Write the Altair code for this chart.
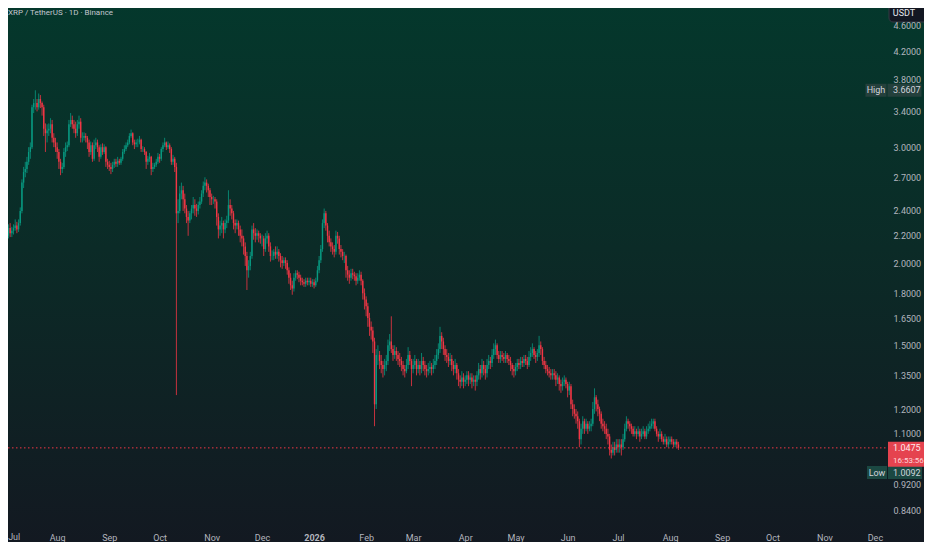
import altair as alt
import pandas as pd
import numpy as np

# ---------------- data ----------------
symbol_title = "XRP / TetherUS · 1D · Binance"
currency = "USDT"
start_date = "2025-06-28"
first_open = 2.12

closes_2025 = [
    2.14, 2.17, 2.20, 2.22,
    2.20, 2.26, 2.22, 2.24, 2.26, 2.28, 2.25, 2.30, 2.40, 2.65, 2.75, 2.78, 2.85, 2.95, 3.00, 3.45, 3.50, 3.50, 3.45, 3.55, 3.50, 3.45, 3.20, 3.15, 3.18, 3.20, 3.25, 3.10, 3.05, 3.00, 2.95,
    2.85, 2.78, 2.80, 2.95, 3.00, 3.02, 3.25, 3.30, 3.25, 3.20, 3.15, 3.25, 3.28, 3.10, 3.10, 3.12, 3.10, 3.05, 2.95, 3.02, 2.88, 3.02, 3.05, 3.00, 2.90, 3.00, 2.95, 3.00, 2.85, 2.82, 2.80,
    2.78, 2.82, 2.85, 2.83, 2.86, 2.84, 2.88, 2.95, 2.98, 3.02, 3.05, 3.12, 3.15, 3.05, 3.03, 3.05, 3.05, 3.08, 2.98, 2.98, 2.95, 2.85, 2.88, 2.90, 2.78, 2.80, 2.82, 2.85, 2.90, 2.88,
    2.98, 3.02, 3.05, 3.00, 3.02, 2.98, 2.85, 2.88, 2.80, 2.38, 2.40, 2.55, 2.58, 2.50, 2.42, 2.35, 2.32, 2.38, 2.42, 2.45, 2.42, 2.40, 2.45, 2.48, 2.55, 2.62, 2.65, 2.62, 2.58, 2.52, 2.50,
    2.50, 2.48, 2.35, 2.25, 2.28, 2.30, 2.25, 2.30, 2.32, 2.45, 2.42, 2.38, 2.30, 2.28, 2.30, 2.25, 2.20, 2.18, 2.12, 2.05, 1.95, 1.98, 2.05, 2.25, 2.22, 2.20, 2.22, 2.20, 2.18, 2.18,
    2.10, 2.18, 2.20, 2.12, 2.05, 2.05, 2.08, 2.06, 2.08, 2.05, 2.02, 2.00, 2.02, 2.00, 1.95, 1.90, 1.85, 1.83, 1.90, 1.93, 1.92, 1.90, 1.88, 1.87, 1.86, 1.88, 1.87, 1.88, 1.86, 1.87, 1.85,
]
highs_2025 = [
    2.17, 2.19, 2.23, 2.25,
    2.26, 2.29, 2.30, 2.27, 2.29, 2.33, 2.31, 2.33, 2.43, 2.68, 2.80, 2.85, 2.90, 3.00, 3.05, 3.48, 3.55, 3.6607, 3.55, 3.62, 3.60, 3.52, 3.48, 3.26, 3.25, 3.26, 3.32, 3.30, 3.15, 3.10, 3.05,
    2.98, 2.88, 2.84, 2.99, 3.05, 3.06, 3.30, 3.38, 3.35, 3.30, 3.28, 3.30, 3.35, 3.32, 3.16, 3.16, 3.15, 3.12, 3.08, 3.06, 3.05, 3.08, 3.10, 3.08, 3.02, 3.03, 3.04, 3.03, 3.01, 2.88, 2.86,
    2.84, 2.85, 2.88, 2.88, 2.90, 2.88, 2.90, 2.98, 3.02, 3.05, 3.08, 3.15, 3.19, 3.16, 3.08, 3.08, 3.09, 3.12, 3.09, 3.01, 3.00, 2.96, 2.91, 2.94, 2.91, 2.84, 2.84, 2.88, 2.94, 2.93,
    3.00, 3.05, 3.10, 3.06, 3.06, 3.04, 3.00, 2.92, 2.90, 2.84, 2.50, 2.62, 2.65, 2.62, 2.55, 2.45, 2.40, 2.40, 2.45, 2.52, 2.50, 2.46, 2.48, 2.52, 2.58, 2.66, 2.70, 2.68, 2.64, 2.60, 2.55,
    2.53, 2.52, 2.50, 2.38, 2.32, 2.35, 2.32, 2.33, 2.36, 2.58, 2.50, 2.45, 2.40, 2.33, 2.33, 2.32, 2.28, 2.25, 2.20, 2.15, 2.08, 2.02, 2.08, 2.28, 2.30, 2.26, 2.25, 2.24, 2.22, 2.21,
    2.20, 2.22, 2.24, 2.22, 2.15, 2.09, 2.10, 2.12, 2.12, 2.10, 2.07, 2.05, 2.04, 2.04, 2.02, 1.97, 1.93, 1.88, 1.93, 1.95, 1.95, 1.94, 1.92, 1.90, 1.89, 1.90, 1.90, 1.90, 1.90, 1.89, 1.89,
]
lows_2025 = [
    2.09, 2.11, 2.14, 2.17,
    2.17, 2.18, 2.19, 2.19, 2.21, 2.24, 2.22, 2.23, 2.28, 2.38, 2.60, 2.70, 2.74, 2.82, 2.88, 2.98, 3.38, 3.42, 3.40, 3.42, 3.44, 3.35, 3.12, 2.95, 3.05, 3.12, 3.15, 3.05, 3.00, 2.95, 2.88,
    2.78, 2.72, 2.74, 2.78, 2.90, 2.96, 3.00, 3.22, 3.20, 3.15, 3.10, 3.12, 3.20, 3.05, 3.05, 3.07, 3.05, 2.98, 2.90, 2.92, 2.85, 2.86, 2.98, 2.95, 2.85, 2.88, 2.92, 2.93, 2.80, 2.78, 2.76,
    2.73, 2.75, 2.79, 2.80, 2.80, 2.82, 2.82, 2.86, 2.93, 2.96, 3.00, 3.03, 3.10, 3.02, 2.98, 3.00, 3.00, 3.03, 2.95, 2.95, 2.92, 2.78, 2.82, 2.85, 2.72, 2.75, 2.78, 2.80, 2.83, 2.84,
    2.86, 2.95, 3.00, 2.97, 2.98, 2.94, 2.82, 2.82, 2.75, 1.26, 2.30, 2.38, 2.50, 2.40, 2.38, 2.30, 2.20, 2.30, 2.33, 2.38, 2.36, 2.35, 2.37, 2.42, 2.46, 2.52, 2.58, 2.56, 2.52, 2.45, 2.45,
    2.46, 2.42, 2.28, 2.18, 2.20, 2.22, 2.18, 2.22, 2.26, 2.30, 2.36, 2.33, 2.25, 2.22, 2.25, 2.20, 2.15, 2.12, 2.06, 1.98, 1.82, 1.90, 1.95, 2.03, 2.17, 2.15, 2.17, 2.15, 2.14, 2.12,
    2.05, 2.08, 2.14, 2.08, 2.01, 2.02, 2.02, 2.03, 2.03, 2.01, 1.97, 1.96, 1.98, 1.96, 1.92, 1.86, 1.82, 1.79, 1.81, 1.88, 1.89, 1.87, 1.85, 1.85, 1.84, 1.84, 1.85, 1.85, 1.84, 1.84, 1.83,
]

closes_2026 = [
    1.88, 1.95, 2.02, 2.10, 2.30, 2.38, 2.28, 2.20, 2.15, 2.12, 2.10, 2.08, 2.20, 2.18, 2.10, 2.08, 2.05, 2.05, 1.95, 1.92, 1.90, 1.93, 1.92, 1.91, 1.88, 1.90, 1.92, 1.88, 1.80, 1.76, 1.72,
    1.65, 1.60, 1.58, 1.52, 1.22, 1.45, 1.45, 1.42, 1.40, 1.38, 1.40, 1.42, 1.50, 1.52, 1.48, 1.45, 1.47, 1.45, 1.43, 1.42, 1.40, 1.38, 1.37, 1.40, 1.45, 1.42, 1.38, 1.40,
    1.42, 1.38, 1.40, 1.38, 1.42, 1.40, 1.38, 1.37, 1.38, 1.39, 1.38, 1.40, 1.42, 1.45, 1.48, 1.55, 1.52, 1.48, 1.45, 1.44, 1.42, 1.43, 1.40, 1.38, 1.40, 1.36, 1.33, 1.32, 1.34, 1.32, 1.33,
    1.35, 1.33, 1.34, 1.32, 1.33, 1.32, 1.35, 1.38, 1.36, 1.40, 1.38, 1.36, 1.40, 1.42, 1.41, 1.45, 1.48, 1.50, 1.45, 1.43, 1.45, 1.44, 1.43, 1.45, 1.43, 1.42, 1.40, 1.38, 1.37, 1.39,
    1.41, 1.40, 1.42, 1.41, 1.43, 1.42, 1.40, 1.44, 1.46, 1.48, 1.45, 1.44, 1.46, 1.50, 1.48, 1.42, 1.40, 1.38, 1.37, 1.36, 1.35, 1.36, 1.35, 1.33, 1.34, 1.31, 1.30, 1.32, 1.33, 1.31, 1.28,
    1.30, 1.22, 1.20, 1.18, 1.17, 1.15, 1.08, 1.12, 1.15, 1.12, 1.14, 1.12, 1.13, 1.14, 1.20, 1.25, 1.22, 1.20, 1.18, 1.14, 1.13, 1.12, 1.10, 1.09, 1.04, 1.03, 1.05, 1.04, 1.06, 1.05,
    1.06, 1.05, 1.08, 1.12, 1.15, 1.14, 1.13, 1.12, 1.10, 1.11, 1.10, 1.11, 1.09, 1.10, 1.11, 1.09, 1.11, 1.12, 1.13, 1.14, 1.15, 1.12, 1.10, 1.09, 1.10, 1.08, 1.07, 1.08, 1.06, 1.07, 1.08,
    1.07, 1.06, 1.07, 1.06, 1.0475,
]
highs_2026 = [
    1.90, 1.98, 2.05, 2.13, 2.33, 2.42, 2.40, 2.30, 2.24, 2.18, 2.15, 2.13, 2.24, 2.23, 2.20, 2.13, 2.10, 2.08, 2.06, 1.98, 1.95, 1.96, 1.96, 1.94, 1.93, 1.93, 1.95, 1.94, 1.89, 1.83, 1.78,
    1.74, 1.68, 1.63, 1.60, 1.54, 1.48, 1.50, 1.47, 1.45, 1.42, 1.43, 1.45, 1.53, 1.56, 1.66, 1.50, 1.50, 1.49, 1.47, 1.46, 1.44, 1.42, 1.40, 1.43, 1.49, 1.47, 1.43, 1.43,
    1.45, 1.43, 1.43, 1.42, 1.46, 1.44, 1.42, 1.40, 1.41, 1.42, 1.41, 1.43, 1.45, 1.48, 1.51, 1.60, 1.57, 1.54, 1.50, 1.48, 1.46, 1.46, 1.45, 1.42, 1.43, 1.41, 1.38, 1.35, 1.37, 1.36, 1.35,
    1.37, 1.37, 1.36, 1.36, 1.35, 1.35, 1.37, 1.41, 1.40, 1.43, 1.42, 1.40, 1.43, 1.45, 1.44, 1.48, 1.51, 1.53, 1.51, 1.47, 1.47, 1.47, 1.46, 1.47, 1.46, 1.45, 1.44, 1.41, 1.40, 1.41,
    1.43, 1.43, 1.44, 1.44, 1.45, 1.45, 1.44, 1.47, 1.49, 1.51, 1.49, 1.47, 1.48, 1.55, 1.52, 1.49, 1.44, 1.42, 1.40, 1.39, 1.38, 1.38, 1.38, 1.37, 1.36, 1.35, 1.33, 1.34, 1.35, 1.34, 1.32,
    1.32, 1.31, 1.24, 1.22, 1.20, 1.19, 1.16, 1.14, 1.17, 1.16, 1.16, 1.15, 1.15, 1.16, 1.23, 1.29, 1.26, 1.24, 1.21, 1.19, 1.16, 1.15, 1.14, 1.12, 1.10, 1.06, 1.07, 1.07, 1.08, 1.08,
    1.08, 1.08, 1.10, 1.14, 1.17, 1.16, 1.15, 1.14, 1.13, 1.13, 1.12, 1.13, 1.12, 1.12, 1.13, 1.12, 1.13, 1.14, 1.15, 1.16, 1.16, 1.16, 1.13, 1.11, 1.12, 1.11, 1.09, 1.10, 1.09, 1.09, 1.09,
    1.09, 1.08, 1.08, 1.08, 1.07,
]
lows_2026 = [
    1.84, 1.87, 1.93, 2.00, 2.08, 2.26, 2.24, 2.15, 2.12, 2.08, 2.06, 2.04, 2.06, 2.14, 2.06, 2.04, 2.02, 2.00, 1.90, 1.88, 1.86, 1.88, 1.89, 1.88, 1.85, 1.86, 1.88, 1.85, 1.76, 1.70, 1.66,
    1.60, 1.55, 1.53, 1.46, 1.13, 1.20, 1.40, 1.38, 1.36, 1.34, 1.35, 1.37, 1.40, 1.47, 1.46, 1.42, 1.43, 1.42, 1.40, 1.39, 1.37, 1.35, 1.34, 1.36, 1.38, 1.40, 1.30, 1.36,
    1.38, 1.35, 1.36, 1.35, 1.36, 1.37, 1.35, 1.34, 1.35, 1.36, 1.35, 1.36, 1.38, 1.40, 1.43, 1.46, 1.48, 1.45, 1.42, 1.41, 1.39, 1.40, 1.37, 1.35, 1.36, 1.33, 1.30, 1.29, 1.30, 1.29, 1.30,
    1.31, 1.30, 1.31, 1.29, 1.30, 1.28, 1.30, 1.33, 1.33, 1.34, 1.35, 1.33, 1.34, 1.38, 1.38, 1.39, 1.43, 1.45, 1.43, 1.41, 1.41, 1.42, 1.41, 1.41, 1.41, 1.40, 1.37, 1.35, 1.34, 1.35,
    1.37, 1.38, 1.38, 1.39, 1.39, 1.40, 1.38, 1.39, 1.42, 1.44, 1.43, 1.41, 1.42, 1.44, 1.45, 1.40, 1.38, 1.36, 1.35, 1.34, 1.33, 1.33, 1.33, 1.30, 1.31, 1.28, 1.27, 1.28, 1.30, 1.29, 1.25,
    1.26, 1.20, 1.17, 1.16, 1.14, 1.12, 1.05, 1.06, 1.10, 1.10, 1.11, 1.10, 1.11, 1.11, 1.13, 1.18, 1.19, 1.17, 1.15, 1.12, 1.11, 1.10, 1.08, 1.06, 1.02, 1.0092, 1.02, 1.02, 1.03, 1.03,
    1.03, 1.02, 1.04, 1.07, 1.11, 1.12, 1.11, 1.10, 1.09, 1.09, 1.08, 1.09, 1.07, 1.08, 1.09, 1.08, 1.08, 1.10, 1.11, 1.12, 1.12, 1.11, 1.09, 1.07, 1.08, 1.07, 1.06, 1.06, 1.05, 1.05, 1.06,
    1.06, 1.05, 1.05, 1.05, 1.04,
]

high_value = 3.6607
low_value = 1.0092
last_price = 1.0475
countdown = "16:53:56"

y_ticks = [0.84, 0.92, 1.1, 1.2, 1.35, 1.5, 1.65, 1.8, 2.0, 2.2, 2.4, 2.7, 3.0, 3.4, 3.8, 4.2, 4.6]
x_domain = ["2025-07-02T17:00:00", "2026-12-08T05:00:00"]
y_domain = [0.8311, 4.882]
edge_month = {"date": "2025-07-01", "lab": "Jul"}

# ---------------- tables ----------------
closes = closes_2025 + closes_2026
highs = highs_2025 + highs_2026
lows = lows_2025 + lows_2026
dates = pd.date_range(start_date, periods=len(closes), freq="D")
opens = [first_open] + closes[:-1]
df = pd.DataFrame({
    "date": dates.strftime("%Y-%m-%d"),
    "open": opens, "close": closes, "high": highs, "low": lows,
})
df["dir"] = np.where(df["close"] >= df["open"], "up", "down")

to_ms = lambda s: int(pd.Timestamp(s, tz="UTC").value // 10**6)
x_dom_ms = [to_ms(s) for s in x_domain]
month_ms = [int(t.value // 10**6) for t in pd.date_range("2025-07-01", "2026-12-01", freq="MS", tz="UTC")]

one = pd.DataFrame({"k": [0]})
title_df = pd.DataFrame({"t": [symbol_title]})
cur_df = pd.DataFrame({"t": [currency]})
edge_df = pd.DataFrame([edge_month])
high_df = pd.DataFrame({"price": [high_value], "lab": ["High"], "val": [f"{high_value:.4f}"]})
low_df = pd.DataFrame({"price": [low_value], "lab": ["Low"], "val": [f"{low_value:.4f}"]})
last_df = pd.DataFrame({"price": [last_price], "val": [f"{last_price:.4f}"], "cd": [countdown]})

# ---------------- styles ----------------
GREEN = "#089981"
RED = "#f23645"
TXT = "#b2b5be"
FONT = "Roboto"
W, H = 879, 506

xscale = alt.Scale(type="utc", domain=x_dom_ms)
yscale = alt.Scale(type="log", domain=y_domain, nice=False, zero=False)
dir_scale = alt.Scale(domain=["up", "down"], range=[GREEN, RED])

xaxis = alt.Axis(
    values=month_ms, title=None, grid=False, domain=False, ticks=False,
    labelExpr="utcFormat(datum.value, utcmonth(datum.value) == 0 ? '%Y' : '%b')",
    labelFontWeight={"condition": {"test": "utcmonth(datum.value) == 0", "value": "bold"}, "value": "normal"},
    labelFont=FONT, labelFontSize=9, labelColor=TXT, labelPadding=23,
    labelBaseline="middle", labelOverlap=False, labelFlush=False, zindex=1,
)
yaxis = alt.Axis(
    values=y_ticks, format=".4f", orient="right", title=None, grid=False,
    domain=False, ticks=False, labelFont=FONT, labelFontSize=9, labelColor=TXT,
    labelPadding=6, labelBaseline="middle", labelAlign="left", labelOverlap=False,
    zindex=1,
)

gradient = alt.Gradient(
    gradient="linear",
    stops=[
        alt.GradientStop(color="#04382c", offset=0),
        alt.GradientStop(color="#0b2b27", offset=0.45),
        alt.GradientStop(color="#131821", offset=1),
    ],
    x1=0, x2=0, y1=0, y2=1,
)

def Yp(field):
    return alt.Y(field, scale=yscale, axis=yaxis)

bg = alt.Chart(one).mark_rect(color=gradient).encode(
    x=alt.value(-10), x2=alt.value(W + 60), y=alt.value(-10), y2=alt.value(H + 40)
)

price_line = alt.Chart(last_df).mark_rule(color=RED, strokeDash=[1.5, 2.5], strokeWidth=1).encode(
    y=Yp("price:Q"), x=alt.value(0), x2=alt.value(W)
)

wicks = alt.Chart(df).mark_rule(strokeWidth=1, opacity=0.8).encode(
    x=alt.X("date:T", scale=xscale, axis=xaxis),
    y=Yp("low:Q"),
    y2="high:Q",
    color=alt.Color("dir:N", scale=dir_scale, legend=None),
)
bodies = alt.Chart(df).mark_rule(strokeWidth=1.4).encode(
    x=alt.X("date:T", scale=xscale, axis=xaxis), y=Yp("open:Q"), y2="close:Q",
    color=alt.Color("dir:N", scale=dir_scale, legend=None),
)

edge_lab = alt.Chart(edge_df).mark_text(
    align="left", baseline="middle", font=FONT, fontSize=9, color=TXT, dx=3
).encode(x=alt.X("date:T", scale=xscale, axis=xaxis), y=alt.value(H + 23), text="lab:N")

title_txt = alt.Chart(title_df).mark_text(
    align="left", baseline="middle", font=FONT, fontSize=8, color="#c3c6ce"
).encode(text="t:N", x=alt.value(0), y=alt.value(5))

cur_box = alt.Chart(one).mark_rect(
    fill="#131722", stroke="#363a45", strokeWidth=1, cornerRadius=4
).encode(x=alt.value(881), x2=alt.value(921), y=alt.value(-5), y2=alt.value(14))
cur_txt = alt.Chart(cur_df).mark_text(
    align="center", baseline="middle", font=FONT, fontSize=9, color="#e6e8ee"
).encode(text="t:N", x=alt.value(896), y=alt.value(5))

def tag(data, cx, width, fill, yoff, field, color, tx, align="center", h=13):
    box = alt.Chart(data).mark_tick(
        orient="horizontal", size=width, thickness=h, color=fill, opacity=1, yOffset=yoff
    ).encode(y=Yp("price:Q"), x=alt.value(cx))
    txt = alt.Chart(data).mark_text(
        align=align, baseline="middle", font=FONT, fontSize=9, color=color, yOffset=yoff
    ).encode(y=Yp("price:Q"), x=alt.value(tx), text=f"{field}:N")
    return box + txt

high_tags = tag(high_df, 868, 21, "#24403c", 0, "lab", "#d1d4dc", 868) + \
    tag(high_df, 896.5, 34, "#24403c", 0, "val", "#d1d4dc", 885, "left")
low_tags = tag(low_df, 869, 20, "#1b4842", 14, "lab", "#d1d4dc", 869) + \
    tag(low_df, 897, 34, "#1b4842", 14, "val", "#d1d4dc", 885, "left")

last_box = alt.Chart(last_df).mark_tick(
    orient="horizontal", size=42, thickness=25, color="#e5434f", opacity=1, yOffset=6.5
).encode(y=Yp("price:Q"), x=alt.value(901))
last_val = alt.Chart(last_df).mark_text(
    align="left", baseline="middle", font=FONT, fontSize=9, color="#ffe9eb"
).encode(y=Yp("price:Q"), x=alt.value(885), text="val:N")
last_cd = alt.Chart(last_df).mark_text(
    align="left", baseline="middle", font=FONT, fontSize=8, color="#ffd6da", yOffset=13
).encode(y=Yp("price:Q"), x=alt.value(885), text="cd:N")

chart = alt.layer(
    bg, wicks, bodies, price_line, edge_lab, title_txt, cur_box, cur_txt,
    high_tags, low_tags, last_box, last_val, last_cd,
).properties(
    width=W, height=H,
    padding={"left": 0, "top": 0, "right": 37, "bottom": 28},
    autosize=alt.AutoSizeParams(type="none"),
    background="#131821",
).configure_view(stroke=None)

chart.save("out.html", embed_options={"renderer": "svg", "actions": False})
